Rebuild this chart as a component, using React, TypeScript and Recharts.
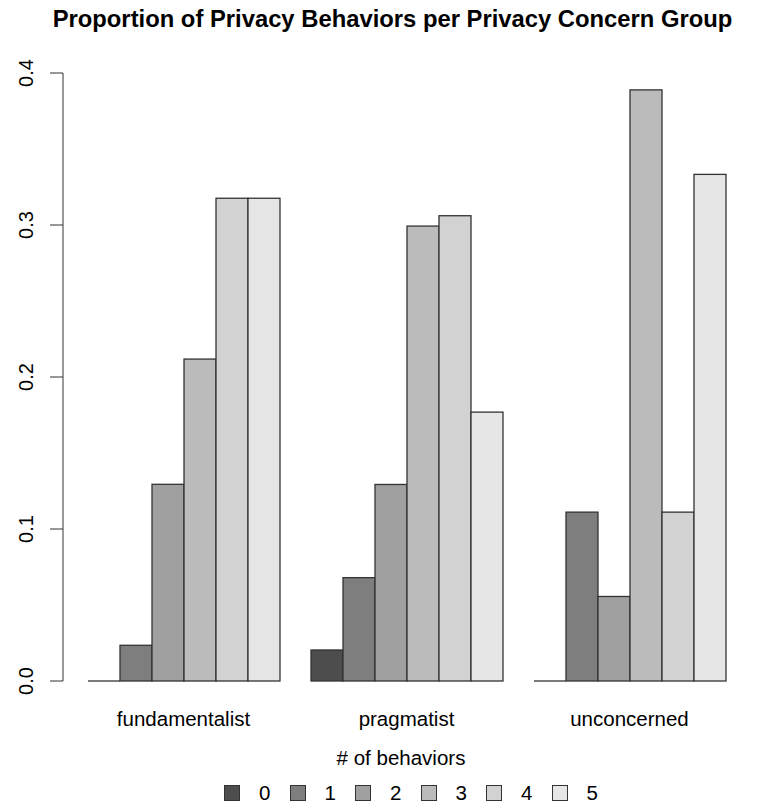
import { BarChart, Bar, XAxis, YAxis } from "recharts";

const groups = ["fundamentalist", "pragmatist", "unconcerned"];
const behaviorCounts = ["0", "1", "2", "3", "4", "5"];

// proportion of people in each group with N behaviors
const share0 = [0, 0.0204, 0];
const share1 = [0.0235, 0.068, 0.1111];
const share2 = [0.1294, 0.1293, 0.0556];
const share3 = [0.2118, 0.2993, 0.3889];
const share4 = [0.3176, 0.3061, 0.1111];
const share5 = [0.3176, 0.1769, 0.3333];

const yTicks = [0, 0.1, 0.2, 0.3, 0.4];
const grays = ["#4D4D4D", "#7E7E7E", "#A0A0A0", "#BBBBBB", "#D2D2D2", "#E6E6E6"];

const shares = [share0, share1, share2, share3, share4, share5];
const data = groups.map((g, i) => {
  const row: Record<string, string | number> = { group: g };
  behaviorCounts.forEach((b, j) => {
    row["b" + b] = shares[j][i];
  });
  return row;
});

const FONT = '"Liberation Sans", Arial, sans-serif';

const BarShape = (props: any) => {
  const { x, y, width, height, fill } = props;
  if (!height || height < 0.5) {
    return <line x1={x} x2={x + width} y1={y + (height || 0)} y2={y + (height || 0)} stroke="#333" strokeWidth={1.3} />;
  }
  return <rect x={x} y={y} width={width} height={height} fill={fill} stroke="#333" strokeWidth={1.3} />;
};

const YTick = (props: any) => {
  const { y, payload } = props;
  return (
    <text x={33} y={y} transform={`rotate(-90 33 ${y})`} textAnchor="middle" fontSize={20} fontFamily={FONT} fill="#000">
      {Number(payload.value).toFixed(1)}
    </text>
  );
};

const XTick = (props: any) => {
  const { x, y, payload } = props;
  return (
    <text x={x} y={y + 37} textAnchor="middle" fontSize={20.5} fontFamily={FONT} fill="#000">
      {payload.value}
    </text>
  );
};

export default function App() {
  return (
    <div style={{ position: "absolute", left: 0, top: 0, width: 761, height: 805, background: "#fff", fontFamily: FONT }}>
      <div style={{ position: "absolute", top: 5, left: 0, width: 785, textAlign: "center", fontWeight: "bold", fontSize: 23.8 }}>
        Proportion of Privacy Behaviors per Privacy Concern Group
      </div>
      <BarChart
        width={761}
        height={805}
        data={data}
        margin={{ top: 73, right: 11, bottom: 84, left: 0 }}
        barCategoryGap={16}
        barGap={0}
      >
        <XAxis
          dataKey="group"
          axisLine={false}
          tickLine={false}
          height={40}
          padding={{ left: 9, right: 9 }}
          tick={<XTick />}
        />
        <YAxis
          width={63}
          domain={[0, 0.4]}
          ticks={yTicks}
          tickSize={13}
          axisLine={{ stroke: "#333" }}
          tickLine={{ stroke: "#333" }}
          tick={<YTick />}
        />
        {behaviorCounts.map((b, j) => (
          <Bar key={b} dataKey={"b" + b} fill={grays[j]} shape={<BarShape />} isAnimationActive={false} />
        ))}
      </BarChart>
      <div style={{ position: "absolute", top: 746, left: 0, width: 802, textAlign: "center", fontSize: 20.5 }}>
        # of behaviors
      </div>
      {behaviorCounts.map((b, j) => (
        <div key={b} style={{ position: "absolute", top: 782, left: 224 + j * 65.5, height: 22, display: "flex", alignItems: "center", fontSize: 20.5 }}>
          <div style={{ width: 14, height: 14, background: grays[j], border: "1px solid #333" }} />
          <span style={{ marginLeft: 19 }}>{b}</span>
        </div>
      ))}
    </div>
  );
}
